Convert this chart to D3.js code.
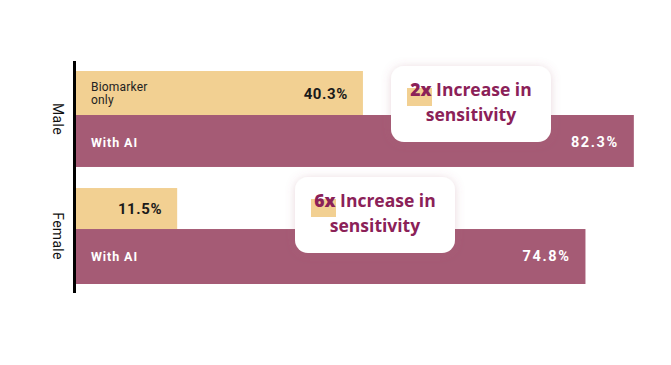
<!DOCTYPE html>
<html>
<head>
<meta charset="utf-8">
<script src="https://cdn.jsdelivr.net/npm/d3@7"></script>
<style>
  body { margin: 0; background: #fff; }
  svg { display: block; font-family: Roboto, "Noto Sans", sans-serif; }
</style>
</head>
<body>
<svg width="671" height="365"></svg>
<script>
// data
var groups = ['Male', 'Female'];
var biomarkerValues = [40.3, 11.5];
var aiValues = [82.3, 74.8];
var calloutMultipliers = ['2x', '6x'];
var calloutLines = ['Increase in', 'sensitivity'];

var yellow = '#f2d092';
var mauve = '#a55b75';
var plum = '#8b2158';

var svg = d3.select('svg');

var axisX = 76;
// bars in the original are not strictly proportional, fitted scale
var x = d3.scaleLinear()
    .domain([0, 100])
    .range([27, 672]);

var y = d3.scaleBand()
    .domain(groups)
    .range([71, 284])
    .paddingInner(0.18)
    .paddingOuter(0);

var defs = svg.append('defs');
var f = defs.append('filter')
    .attr('id', 'shadow')
    .attr('x', '-20%').attr('y', '-30%')
    .attr('width', '140%').attr('height', '160%');
f.append('feDropShadow')
    .attr('dx', 0).attr('dy', 1)
    .attr('stdDeviation', 5)
    .attr('flood-color', '#a55b75')
    .attr('flood-opacity', 0.25);

var g = svg.selectAll('.group')
  .data(groups)
  .enter()
  .append('g')
  .attr('class', 'group')
  .attr('transform', function(d) {
    return 'translate(0,' + y(d) + ')';
  });

var bh = y.bandwidth();
var topH = [44, 41];

// biomarker bar
g.append('rect')
  .attr('x', axisX)
  .attr('y', 0)
  .attr('width', function(d, i) { return x(biomarkerValues[i]); })
  .attr('height', function(d, i) { return topH[i]; })
  .attr('fill', yellow);

// AI bar
g.append('rect')
  .attr('x', axisX)
  .attr('y', function(d, i) { return topH[i]; })
  .attr('width', function(d, i) { return x(aiValues[i]); })
  .attr('height', function(d, i) { return bh - topH[i]; })
  .attr('fill', mauve);

// Biomarker only label (male only)
var lbl = g.filter(function(d, i) { return i === 0; })
  .append('text')
  .attr('x', 91)
  .attr('y', 20)
  .attr('font-size', 12)
  .attr('letter-spacing', 0.2)
  .attr('fill', '#222');
lbl.append('tspan').attr('x', 91).text('Biomarker');
lbl.append('tspan').attr('x', 91).attr('dy', 12.5).text('only');

// biomarker values
g.append('text')
  .attr('x', function(d, i) { return axisX + x(biomarkerValues[i]) - 15; })
  .attr('y', function(d, i) { return i === 0 ? 28 : 26; })
  .attr('text-anchor', 'end')
  .attr('font-size', 15)
  .attr('font-weight', 'bold')
  .attr('letter-spacing', 0.6)
  .attr('fill', '#1a1a1a')
  .text(function(d, i) { return biomarkerValues[i] + '%'; });

// With AI labels
g.append('text')
  .attr('x', 91)
  .attr('y', function(d, i) { return i === 0 ? 76 : 73; })
  .attr('font-size', 12.5)
  .attr('font-weight', 'bold')
  .attr('letter-spacing', 0.9)
  .attr('fill', '#fff')
  .text('With AI');

g.append('text')
  .attr('x', function(d, i) { return axisX + x(aiValues[i]) - 15; })
  .attr('y', function(d, i) { return i === 0 ? 76 : 73; })
  .attr('text-anchor', 'end')
  .attr('font-size', 14.5)
  .attr('font-weight', 'bold')
  .attr('letter-spacing', 1.6)
  .attr('fill', '#fff')
  .text(function(d, i) { return aiValues[i].toFixed(1) + '%'; });

// group labels, rotated
g.append('text')
  .attr('transform', function(d) {
    return 'translate(53,' + (bh / 2) + ') rotate(90)';
  })
  .attr('text-anchor', 'middle')
  .attr('font-size', 14)
  .attr('letter-spacing', 0.3)
  .attr('fill', '#111')
  .text(function(d) { return d; });

// axis line
svg.append('line')
  .attr('x1', axisX - 1.5).attr('x2', axisX - 1.5)
  .attr('y1', 61).attr('y2', 293)
  .attr('stroke', '#000')
  .attr('stroke-width', 3);

// callouts
var calloutPos = [[391, 66], [295, 177]];
var cg = svg.selectAll('.callout')
  .data(calloutMultipliers)
  .enter()
  .append('g')
  .attr('class', 'callout')
  .attr('transform', function(d, i) {
    return 'translate(' + calloutPos[i][0] + ',' + calloutPos[i][1] + ')';
  });

cg.append('rect')
  .attr('width', 160)
  .attr('height', 76)
  .attr('rx', 13)
  .attr('fill', '#fff')
  .attr('filter', 'url(#shadow)');

cg.append('rect')
  .attr('x', 16).attr('y', 22)
  .attr('width', 25).attr('height', 18)
  .attr('fill', yellow);

var t1 = cg.append('text')
  .attr('x', 80)
  .attr('y', 30)
  .attr('text-anchor', 'middle')
  .attr('font-family', '"Open Sans", Roboto, sans-serif')
  .attr('font-size', 17.5)
  .attr('font-weight', 700)
  .attr('fill', plum);
t1.append('tspan').attr('font-weight', 800).text(function(d) { return d; });
t1.append('tspan').text(' ' + calloutLines[0]);

cg.append('text')
  .attr('x', 80)
  .attr('y', 55)
  .attr('text-anchor', 'middle')
  .attr('font-family', '"Open Sans", Roboto, sans-serif')
  .attr('font-size', 17.5)
  .attr('font-weight', 700)
  .attr('fill', plum)
  .text(calloutLines[1]);
</script>
</body>
</html>
